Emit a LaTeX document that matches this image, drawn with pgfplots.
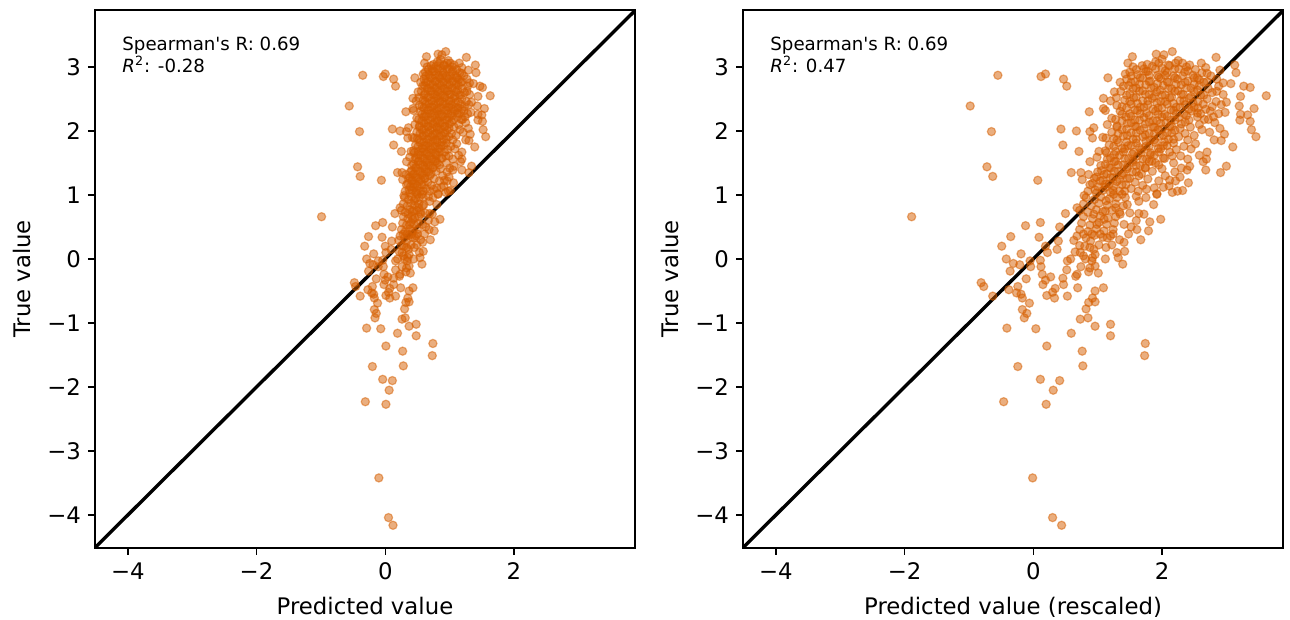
\documentclass[border=0pt]{standalone}
\usepackage{fontspec}
\setmainfont{DejaVu Sans}[Ligatures=TeXOff]
\usepackage{pgfplots}
\usepackage{pgfplotstable}
\pgfplotsset{compat=1.18}
\definecolor{verm}{HTML}{D55E00}
\pgfplotstableread[row sep=crcr]{
xl xr y\\
.94 2.16 3.24\\ .82 1.91 3.20\\ .88 2.03 3.19\\ .86 2.00 3.12\\ .64 1.54 3.16\\ 1.26 2.84 3.15\\ .61 1.47 3.06\\ .71 1.69 3.02\\ .75 1.77 3.04\\ .81 1.90 3.08\\
.96 2.21 3.06\\ 1.01 2.32 3.06\\ 1.07 2.43 3.03\\ 1.15 2.61 3.06\\ 1.40 3.13 3.03\\ 1.41 3.15 2.91\\ 1.29 2.90 2.95\\ 0 .19 2.89\\ -.03 .12 2.85\\ .13 .47 2.81\\
.16 .52 2.70\\ .46 1.16 2.83\\ .59 1.43 2.89\\ .55 1.35 2.76\\ 1.37 3.07 2.74\\ 1.47 3.27 2.70\\ 1.51 3.37 2.68\\ 1.63 3.62 2.55\\ 1.44 3.22 2.54\\ 1.54 3.43 2.35\\
1.43 3.20 2.39\\ 1.44 3.22 2.26\\ 1.50 3.33 2.25\\ 1.44 3.21 2.17\\ 1.51 3.37 2.15\\ 1.52 3.39 2.02\\ 1.56 3.46 1.91\\ 1.39 3.10 1.75\\ .51 1.26 2.61\\ .43 1.09 2.51\\
.52 1.29 2.52\\ .48 1.20 2.47\\ .43 1.09 2.35\\ .44 1.12 2.32\\ .32 .87 2.30\\ .11 .43 2.03\\ .23 .67 2.00\\ .33 .88 1.99\\ .36 .94 2.05\\ .35 .92 1.89\\
.45 1.13 1.89\\ .13 .46 1.78\\ .25 .71 1.68\\ 1.25 2.81 1.86\\ 1.30 2.92 1.85\\ 1.32 2.97 1.95\\ 1.29 2.90 2.04\\ 1.33 2.98 2.29\\ 1.18 2.66 2.18\\ 1.10 2.50 1.93\\
1.11 2.52 1.80\\ 1.19 2.70 1.67\\ 1.19 2.69 1.56\\ 1.17 2.64 1.52\\ 1.19 2.68 1.39\\ 1.34 3.00 1.45\\ 1.30 2.91 1.35\\ 1.06 2.41 1.19\\ 1.05 2.39 1.39\\ 1.07 2.43 1.45\\
.99 2.29 1.61\\ -.06 .07 1.23\\ .19 .59 1.35\\ .26 .74 1.35\\ .27 .76 1.24\\ .32 .86 1.32\\ .33 .88 1.52\\ .44 1.12 1.69\\ .40 1.02 1.68\\ .38 .99 1.59\\
.80 1.88 1.11\\ .82 1.92 1.02\\ .69 1.63 1.06\\ .29 .79 .99\\ .59 1.42 1.06\\ .57 1.38 1.01\\ .91 2.11 1.14\\ .94 2.16 1.04\\ .98 2.24 1.06\\ 1.01 2.32 1.07\\
.92 2.12 1.23\\ .96 2.21 1.22\\
.15 .50 .71\\ .23 .68 .80\\ -.04 .11 .57\\ -.15 -.12 .52\\ .11 .41 .50\\ -.26 -.35 .35\\ -.05 .09 .34\\ -.32 -.49 .20\\ -.18 -.19 .08\\ -.29 -.42 .00\\
.01 .22 .10\\ .09 .37 .15\\ .10 .39 .28\\ 0 .19 .20\\ .21 .63 .29\\ -.24 -.31 -.07\\ -.19 -.21 -.09\\ -.26 -.36 -.19\\ -.11 -.05 -.03\\ -.11 -.04 -.12\\
-.04 .11 -.02\\ -.03 .12 -.12\\ -.02 .14 -.24\\ .04 .27 -.28\\ -.14 -.11 -.31\\ 0 .19 -.33\\ -.02 .15 -.40\\ -.48 -.81 -.37\\ -.46 -.77 -.43\\ -.27 -.38 -.48\\
-.39 -.63 -.58\\ -.20 -.24 -.43\\ -.21 -.26 -.53\\ -.18 -.19 -.55\\ -.17 -.17 -.61\\ -.12 -.06 -.69\\ -.17 -.17 -.79\\ -.14 -.10 -.85\\ -.16 -.14 -.92\\ -.29 -.41 -1.08\\
-.07 .04 -1.09\\ .01 .21 -1.36\\ .27 .76 -1.44\\ .19 .59 -1.16\\ .37 .96 -1.05\\ .48 1.20 -1.02\\ .48 1.20 -1.20\\ .74 1.74 -1.32\\ .73 1.73 -1.51\\ .26 .73 -.94\\
.31 .85 -.92\\ .30 .82 -.78\\ .32 .86 -.68\\ .35 .92 -.61\\ .37 .96 -.67\\ .37 .96 -.50\\ .43 1.09 -.45\\ .24 .69 -.45\\ .16 .53 -.58\\ .13 .46 -.30\\
.13 .47 -.40\\ .07 .34 -.46\\ .05 .30 -.52\\ .01 .21 -.57\\ .07 .33 -.61\\ .44 1.12 .00\\ .57 1.39 -.08\\ .54 1.32 .02\\ .53 1.30 .10\\ .39 1.01 -.22\\
.32 .86 -.20\\ .22 .66 -.27\\ .16 .52 -.17\\ .16 .53 -.03\\ .22 .65 .11\\ .26 .73 .10\\ .19 .58 .00\\ .23 .68 -.24\\ .30 .81 .00\\ .34 .91 -.03\\
.37 .96 -.11\\ .29 .80 .20\\ .36 .94 .15\\ .45 1.13 .18\\ .58 1.41 .26\\ .70 1.67 .30\\ .76 1.79 .44\\ .85 1.98 .62\\ .77 1.81 .58\\ .69 1.64 .71\\
.58 1.41 .54\\ .61 1.48 .39\\ .68 1.61 .46\\ .50 1.24 .39\\ .46 1.15 .33\\ .41 1.04 .39\\ .34 .91 .39\\ .28 .78 .39\\ .33 .89 .28\\ .38 .99 .54\\
.43 1.10 .62\\ .36 .94 .70\\ .44 1.12 .75\\ .55 1.35 .70\\ .80 1.87 .85\\ .82 1.92 1.01\\ .69 1.64 .90\\ .60 1.46 .85\\ .52 1.28 .80\\ .45 1.13 .91\\
.50 1.25 1.01\\ .59 1.43 .96\\
-.20 -.24 -1.68\\ -.04 .11 -1.88\\ .11 .41 -1.90\\ .06 .31 -2.05\\ -.31 -.46 -2.23\\ .01 .20 -2.27\\ .28 .77 -1.67\\ -.10 -.01 -3.42\\ .05 .30 -4.04\\ .12 .44 -4.16\\
-.35 -.55 2.87\\ -.56 -.98 2.39\\ -.40 -.65 1.99\\ -.43 -.72 1.44\\ -.39 -.63 1.29\\ -.99 -1.89 .66\\
.65 1.55 3.00\\ .73 1.72 2.97\\ .79 1.85 3.01\\ .86 2.0 2.98\\ .92 2.12 3.02\\ .99 2.26 2.97\\ 1.04 2.38 3.00\\ 1.11 2.52 2.96\\ 1.19 2.68 2.99\\
.62 1.5 2.92\\ .68 1.62 2.88\\ .76 1.78 2.93\\ .83 1.93 2.87\\ .90 2.08 2.91\\ .95 2.18 2.86\\ 1.03 2.35 2.92\\ 1.09 2.48 2.87\\ 1.16 2.62 2.91\\ 1.22 2.76 2.86\\
.60 1.45 2.81\\ .66 1.58 2.77\\ .72 1.7 2.83\\ .78 1.82 2.78\\ .85 1.98 2.82\\ .91 2.1 2.76\\ .98 2.24 2.81\\ 1.05 2.4 2.78\\ 1.12 2.55 2.83\\ 1.19 2.7 2.77\\ 1.27 2.85 2.81\\
.61 1.48 2.71\\ .67 1.6 2.67\\ .74 1.75 2.72\\ .80 1.88 2.68\\ .87 2.02 2.71\\ .93 2.15 2.66\\ 1.00 2.3 2.72\\ 1.08 2.45 2.67\\ 1.14 2.58 2.71\\ 1.20 2.72 2.66\\ 1.28 2.88 2.70\\
.62 1.5 2.58\\ .70 1.65 2.62\\ .77 1.8 2.57\\ .82 1.92 2.61\\ .89 2.05 2.56\\ .96 2.2 2.62\\ 1.02 2.33 2.57\\ 1.10 2.5 2.61\\ 1.17 2.65 2.56\\ 1.23 2.78 2.60\\ 1.31 2.95 2.57\\
.59 1.42 2.48\\ .65 1.56 2.52\\ .72 1.7 2.47\\ .79 1.85 2.51\\ .85 1.98 2.46\\ .92 2.12 2.52\\ .99 2.28 2.47\\ 1.06 2.42 2.51\\ 1.13 2.56 2.46\\ 1.19 2.7 2.50\\ 1.26 2.84 2.46\\
.57 1.38 2.38\\ .63 1.52 2.42\\ .70 1.66 2.37\\ .76 1.78 2.41\\ .83 1.94 2.36\\ .90 2.08 2.42\\ .97 2.22 2.37\\ 1.03 2.36 2.41\\ 1.10 2.5 2.37\\ 1.17 2.64 2.42\\ 1.23 2.78 2.38\\ 1.30 2.92 2.41\\
.55 1.35 2.31\\ .62 1.5 2.27\\ .68 1.62 2.32\\ .75 1.76 2.28\\ .81 1.9 2.31\\ .88 2.04 2.26\\ .95 2.18 2.32\\ 1.02 2.34 2.27\\ 1.08 2.46 2.31\\ 1.15 2.6 2.27\\ 1.22 2.75 2.31\\ 1.28 2.88 2.27\\
.52 1.28 2.18\\ .60 1.44 2.22\\ .66 1.58 2.17\\ .73 1.72 2.21\\ .80 1.86 2.16\\ .86 2.0 2.22\\ .93 2.14 2.17\\ .99 2.26 2.21\\ 1.06 2.42 2.17\\ 1.12 2.55 2.22\\ 1.20 2.72 2.18\\ 1.25 2.82 2.13\\
.53 1.3 2.08\\ .60 1.46 2.12\\ .67 1.6 2.07\\ .74 1.74 2.11\\ .80 1.88 2.06\\ .85 1.98 2.12\\ .92 2.12 2.07\\ 1.00 2.3 2.11\\ 1.07 2.44 2.06\\ 1.14 2.58 2.10\\
.49 1.22 1.98\\ .57 1.38 2.02\\ .63 1.52 1.97\\ .70 1.66 2.01\\ .77 1.8 1.96\\ .83 1.94 2.02\\ .90 2.08 1.97\\ .96 2.2 2.01\\ 1.03 2.36 1.96\\
.50 1.25 1.88\\ .58 1.4 1.92\\ .65 1.55 1.87\\ .72 1.7 1.91\\ .78 1.82 1.86\\ .84 1.96 1.92\\ .91 2.1 1.87\\ .99 2.26 1.91\\ 1.05 2.4 1.86\\
.47 1.18 1.78\\ .54 1.32 1.82\\ .61 1.47 1.77\\ .67 1.6 1.81\\ .74 1.75 1.76\\ .81 1.9 1.82\\ .87 2.02 1.77\\ .95 2.18 1.81\\ 1.02 2.34 1.76\\
.52 1.28 1.68\\ .59 1.42 1.72\\ .65 1.56 1.67\\ .71 1.68 1.71\\ .78 1.82 1.66\\ .85 1.98 1.72\\ .92 2.12 1.67\\ .97 2.22 1.71\\
.48 1.2 1.58\\ .55 1.34 1.62\\ .61 1.48 1.57\\ .68 1.62 1.61\\ .75 1.76 1.56\\ .80 1.88 1.62\\ .88 2.04 1.57\\ .94 2.16 1.61\\
.44 1.12 1.48\\ .51 1.26 1.52\\ .58 1.4 1.47\\ .64 1.54 1.51\\ .70 1.66 1.46\\ .77 1.8 1.52\\ .84 1.95 1.47\\
.41 1.06 1.38\\ .48 1.2 1.42\\ .54 1.32 1.37\\ .61 1.46 1.41\\ .67 1.6 1.36\\ .74 1.74 1.42\\ .79 1.85 1.37\\ .86 2.0 1.41\\ .96 2.2 1.36\\
.38 .98 1.28\\ .43 1.1 1.32\\ .50 1.24 1.27\\ .57 1.38 1.31\\ .62 1.5 1.26\\ .69 1.64 1.30\\ .76 1.78 1.25\\
.35 .92 1.18\\ .41 1.04 1.22\\ .47 1.18 1.17\\ .53 1.3 1.21\\ .60 1.44 1.16\\ .66 1.58 1.20\\ .72 1.7 1.15\\
.37 .96 1.08\\ .44 1.12 1.12\\ .50 1.24 1.07\\ .63 1.52 1.10\\ .75 1.76 1.09\\ .87 2.02 1.12\\
.84 1.95 3.06\\ .91 2.1 3.03\\ .98 2.25 3.10\\
.67 1.6 2.96\\ .74 1.75 2.93\\ .81 1.9 2.97\\ .89 2.05 2.94\\ .96 2.2 2.97\\ 1.05 2.4 2.94\\
.63 1.52 2.86\\ .70 1.66 2.83\\ .77 1.8 2.87\\ .84 1.95 2.84\\ .89 2.05 2.87\\ .96 2.2 2.83\\ 1.01 2.32 2.86\\ 1.10 2.5 2.83\\
.63 1.52 2.76\\ .70 1.65 2.73\\ .77 1.8 2.77\\ .83 1.93 2.74\\ .90 2.08 2.77\\ .96 2.22 2.73\\ 1.03 2.36 2.76\\ 1.10 2.5 2.73\\ 1.17 2.65 2.76\\
.65 1.55 2.66\\ .72 1.7 2.63\\ .78 1.83 2.67\\ .85 1.97 2.64\\ .91 2.1 2.66\\ .98 2.25 2.63\\ 1.04 2.38 2.67\\ 1.12 2.55 2.64\\
.60 1.45 2.56\\ .67 1.6 2.53\\ .74 1.74 2.57\\ .80 1.88 2.54\\ .86 2.0 2.56\\ .93 2.15 2.53\\ 1.00 2.3 2.57\\ 1.08 2.45 2.54\\ 1.15 2.6 2.56\\
.62 1.5 2.46\\ .68 1.62 2.43\\ .76 1.78 2.47\\ .82 1.92 2.44\\ .89 2.05 2.46\\ .95 2.18 2.43\\ 1.02 2.34 2.47\\ 1.09 2.48 2.44\\
.60 1.45 2.36\\ .66 1.58 2.33\\ .73 1.72 2.37\\ .80 1.86 2.34\\ .86 2.0 2.36\\ .93 2.14 2.33\\ .99 2.28 2.37\\ 1.06 2.42 2.34\\ 1.13 2.56 2.36\\
.57 1.38 2.26\\ .63 1.52 2.23\\ .70 1.66 2.27\\ .77 1.8 2.24\\ .83 1.94 2.26\\ .90 2.08 2.23\\ .97 2.22 2.27\\ 1.04 2.38 2.24\\
.57 1.38 2.16\\ .63 1.52 2.13\\ .70 1.65 2.17\\ .77 1.8 2.14\\ .82 1.92 2.16\\ .89 2.06 2.13\\ .96 2.2 2.17\\ 1.03 2.36 2.14\\
.53 1.3 2.06\\ .60 1.45 2.03\\ .66 1.58 2.07\\ .73 1.72 2.04\\ .80 1.86 2.06\\ .86 2.0 2.03\\ .93 2.15 2.07\\ .99 2.28 2.04\\
.54 1.32 1.96\\ .60 1.46 1.93\\ .67 1.6 1.97\\ .74 1.74 1.94\\ .80 1.88 1.96\\ .87 2.02 1.93\\ .93 2.15 1.97\\
.53 1.3 1.86\\ .60 1.45 1.83\\ .67 1.6 1.87\\ .74 1.75 1.84\\ .80 1.88 1.86\\ .88 2.04 1.83\\ .95 2.18 1.87\\
.51 1.25 1.76\\ .57 1.38 1.73\\ .63 1.52 1.77\\ .70 1.65 1.74\\ .77 1.8 1.76\\ .83 1.94 1.73\\ .90 2.08 1.77\\
.45 1.14 1.66\\ .51 1.26 1.63\\ .58 1.4 1.67\\ .64 1.54 1.64\\ .71 1.68 1.66\\ .78 1.82 1.63\\ .84 1.95 1.67\\
.46 1.15 1.56\\ .52 1.28 1.53\\ .59 1.42 1.57\\ .65 1.55 1.54\\ .72 1.7 1.56\\ .79 1.84 1.53\\
.41 1.05 1.46\\ .47 1.18 1.43\\ .54 1.32 1.47\\ .61 1.46 1.44\\ .67 1.6 1.46\\ .74 1.74 1.43\\
.39 1.0 1.36\\ .45 1.14 1.33\\ .51 1.26 1.37\\ .58 1.4 1.34\\ .64 1.54 1.36\\ .71 1.68 1.33\\
.36 .95 1.26\\ .42 1.08 1.23\\ .48 1.2 1.27\\ .55 1.34 1.24\\ .61 1.46 1.26\\
.33 .88 1.16\\ .39 1.0 1.13\\ .44 1.12 1.17\\ .50 1.25 1.14\\ .57 1.38 1.16\\
.31 .85 1.06\\ .38 .98 1.03\\ .42 1.08 1.07\\ .48 1.2 1.04\\ .55 1.34 1.06\\
.30 .82 .96\\ .36 .95 .93\\ .41 1.05 .97\\ .47 1.18 .94\\ .53 1.3 .96\\
.28 .78 .86\\ .34 .9 .83\\ .40 1.02 .87\\ .46 1.15 .84\\ .52 1.28 .86\\ .58 1.4 .83\\
.25 .72 .76\\ .31 .85 .73\\ .38 .98 .77\\ .42 1.08 .74\\ .49 1.22 .76\\ .55 1.34 .73\\
.28 .78 .66\\ .35 .92 .63\\ .41 1.04 .67\\ .46 1.16 .64\\ .52 1.28 .66\\
.27 .75 .56\\ .33 .88 .53\\ .40 1.02 .57\\ .45 1.14 .54\\ .51 1.26 .56\\
.25 .72 .46\\ .31 .85 .43\\ .38 .98 .47\\ .43 1.1 .44\\ .50 1.24 .46\\
.23 .68 .36\\ .30 .82 .33\\ .36 .95 .37\\ .42 1.08 .34\\ .48 1.2 .36\\
.25 .72 .21\\ .33 .88 .18\\ .40 1.02 .22\\
.28 .78 .05\\ .35 .92 .02\\ .37 .96 .07\\
.26 .74 -.12\\ .33 .88 -.14\\
1.12 2.55 2.28\\ 1.19 2.68 2.34\\ 1.24 2.8 2.22\\ 1.16 2.62 2.02\\ 1.21 2.74 1.98\\ 1.08 2.45 1.72\\ 1.14 2.58 1.62\\ 1.05 2.4 1.56\\ 1.00 2.3 1.42\\ .95 2.18 1.50\\
.89 2.05 1.30\\ .84 1.95 1.22\\ .99 2.28 1.28\\ .81 1.9 1.50\\ .87 2.02 1.58\\ .67 1.6 .98\\ .74 1.75 .96\\ .62 1.5 .72\\ .67 1.6 .60\\ .73 1.72 .70\\
.63 1.52 .50\\ .55 1.34 .30\\ .49 1.22 .22\\ .59 1.42 .12\\ 1.19 2.7 2.90\\ 1.14 2.58 2.80\\ 1.27 2.85 2.62\\ 1.31 2.95 2.75\\ 1.34 3.0 2.45\\ .56 1.36 2.62\\
.53 1.3 2.40\\ .58 1.4 2.70\\ .49 1.22 2.20\\ .46 1.15 2.10\\ .42 1.08 1.90\\
}\pts
\pgfplotsset{
  panel/.style={
    scale only axis, width=270pt, height=269pt,
    anchor=south west,
    xmin=-4.51, xmax=3.88, ymin=-4.515, ymax=3.89,
    xtick={-4,-2,0,2}, xticklabels={−4,−2,0,2},
    ytick={-4,-3,-2,-1,0,1,2,3}, yticklabels={−4,−3,−2,−1,0,1,2,3},
    tick align=outside, tick pos=left,
    major tick length=3.5pt,
    every tick/.style={black,line width=0.75pt},
    axis line style={black,line width=0.9pt},
    tick label style={font=\fontsize{11.4}{13}\selectfont},
    label style={font=\fontsize{11.4}{13}\selectfont},
    xticklabel style={yshift=-0.5pt},
    xlabel style={yshift=-1.5pt},
    ylabel style={yshift=1.5pt},
    ylabel={True value},
    clip=true,
  },
  pts/.style={only marks, mark=*, mark size=2.05pt,
    mark options={draw=verm, fill=verm, line width=0.6pt, fill opacity=0.5, draw opacity=0.5}},
  diag/.style={black, line width=1.7pt, forget plot},
}
\newcommand{\note}[1]{%
  \node[anchor=base west,inner sep=0pt,font=\fontsize{9.1}{11}\selectfont] at (rel axis cs:0.05,0.924) {Spearman's R: 0.69};
  \node[anchor=base west,inner sep=0pt,font=\fontsize{9.1}{11}\selectfont] at (rel axis cs:0.05,0.883) {\textit{R}\textsuperscript{2}: #1};}
\begin{document}
\begin{tikzpicture}
\path[use as bounding box] (0,0) rectangle (645pt,310pt);
\begin{axis}[panel, at={(47.5pt,36pt)}, xlabel={Predicted value}]
\addplot[diag] coordinates {(-4.6,-4.6) (3.95,3.95)};
\addplot[pts] table[x=xl,y=y] {\pts};
\note{-0.28}
\end{axis}
\begin{axis}[panel, at={(371.5pt,36pt)}, xlabel={Predicted value (rescaled)}]
\addplot[diag] coordinates {(-4.6,-4.6) (3.95,3.95)};
\addplot[pts] table[x=xr,y=y] {\pts};
\note{0.47}
\end{axis}
\end{tikzpicture}
\end{document}
